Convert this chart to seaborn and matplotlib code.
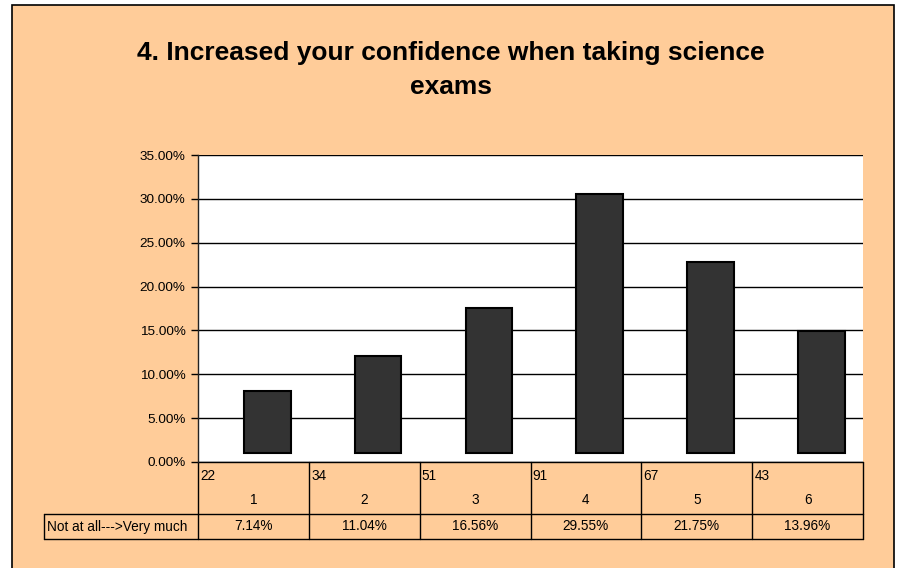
import matplotlib
matplotlib.use("Agg")
import matplotlib.pyplot as plt
import matplotlib.transforms as mtrans
from matplotlib.patches import Rectangle
from matplotlib.ticker import FuncFormatter
import pandas as pd
import seaborn as sns

# data
categories = ["1", "2", "3", "4", "5", "6"]
counts = [22, 34, 51, 91, 67, 43]
percents = [7.14, 11.04, 16.56, 29.55, 21.75, 13.96]
pct_labels = ["7.14%", "11.04%", "16.56%", "29.55%", "21.75%", "13.96%"]
row_header = "Not at all--->Very much"
title = "4. Increased your confidence when taking science\nexams"

df = pd.DataFrame({"rating": categories, "pct": percents})

sns.set_style("white")
plt.rcParams["font.family"] = ["Liberation Sans", "DejaVu Sans"]
plt.rcParams["text.color"] = "black"
plt.rcParams["ytick.color"] = "black"
plt.rcParams["ytick.labelcolor"] = "black"

peach = "#FFCC99"
fig = plt.figure(figsize=(9.02, 5.68), dpi=100)
fig.patch.set_facecolor("white")
fig.patches.append(Rectangle((12 / 902, -0.01), 882 / 902, 1.01 - 5 / 568,
                             transform=fig.transFigure, facecolor=peach,
                             edgecolor="black", linewidth=1.2, zorder=-10))

ax = fig.add_axes([198 / 902, 106 / 568, 665 / 902, 307 / 568])
ax.set_facecolor("white")

sns.barplot(data=df, x="rating", y="pct", color="#333333", width=0.42,
            edgecolor="black", linewidth=1.5, saturation=1, ax=ax, zorder=3)

# excel draws the bars nudged up and right
for p in ax.patches:
    p.set_x(p.get_x() + 0.125)
    p.set_y(1.0)

ax.set_ylim(0, 35)
ax.set_xlim(-0.5, 5.5)
ax.set_yticks(range(0, 36, 5))
ax.yaxis.set_major_formatter(FuncFormatter(lambda v, _: f"{v:.2f}%"))
ax.tick_params(axis="y", left=True, length=5, width=1, color="black",
               labelcolor="black", labelsize=9.7, pad=4)
ax.set_xticks([])
ax.set_xlabel("")
ax.set_ylabel("")
ax.yaxis.grid(True, color="black", linewidth=1)
ax.set_axisbelow(True)
for s in ["top", "right", "bottom"]:
    ax.spines[s].set_visible(False)
ax.spines["left"].set_color("#222222")
ax.spines["left"].set_linewidth(1)

# data table under the axis
tr = mtrans.blended_transform_factory(ax.transData, ax.transAxes)
r1 = -52 / 307
r2 = -77 / 307
lk = dict(color="black", linewidth=1, transform=tr, clip_on=False)
ax.plot([-0.5, 5.5], [0, 0], **lk)
ax.plot([-1.89, 5.5], [r1, r1], **lk)
ax.plot([-1.89, 5.5], [r2, r2], **lk)
ax.plot([-1.89, -1.89], [r1, r2], **lk)
for i in range(7):
    ax.plot([i - 0.5, i - 0.5], [0, r2], **lk)

fs = 9.8
for i, (c, n, pl) in enumerate(zip(categories, counts, pct_labels)):
    ax.text(i - 0.48, -14 / 307, str(n), transform=tr, fontsize=fs,
            ha="left", va="center")
    ax.text(i, -38 / 307, c, transform=tr, fontsize=fs, ha="center", va="center")
    ax.text(i, (r1 + r2) / 2, pl, transform=tr, fontsize=fs,
            ha="center", va="center")
ax.text(-1.86, (r1 + r2) / 2, row_header, transform=tr, fontsize=fs,
        ha="left", va="center")

fig.text(0.5, 1 - 70 / 568, title, ha="center", va="center", fontsize=19,
         fontweight="bold", linespacing=1.55, color="black")

fig.savefig("out.png", dpi=100, facecolor=fig.get_facecolor())
